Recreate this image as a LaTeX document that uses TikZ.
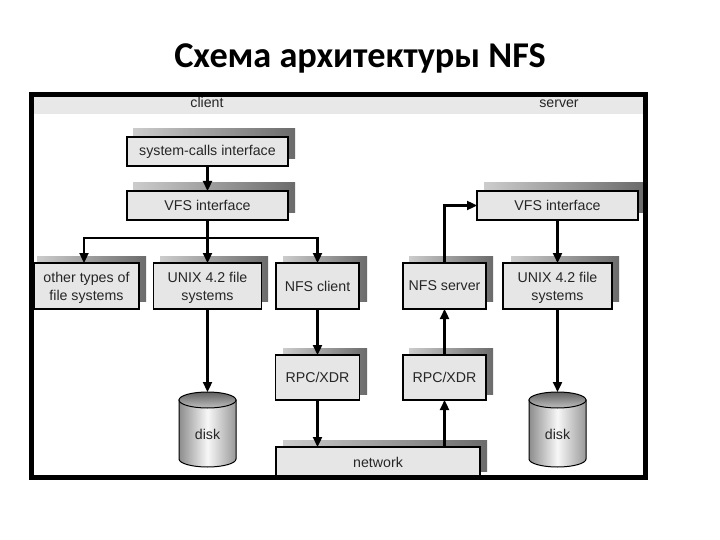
\documentclass[tikz,border=0pt]{standalone}
\usepackage{fontspec}
\setmainfont{Liberation Sans}
\newfontfamily\titlefont{Carlito}
\usetikzlibrary{arrows.meta,calc}
\definecolor{boxfill}{HTML}{E7E6E7}
\definecolor{bandfill}{HTML}{E8E8E8}
\newcommand{\lowstrut}{\rule{0pt}{14pt}}
\tikzset{
  boxnode/.style={draw=black,line width=1.5pt,fill=boxfill,inner sep=0pt,outer sep=0pt,align=center,font=\fontsize{14.2}{17.7}\selectfont,text=black!85},
  boxshadow/.style={left color=black!20,right color=black!58,draw=none},
  plainlabel/.style={inner sep=0pt,anchor=base,font=\fontsize{14.2}{17}\selectfont,text=black!85},
  conn/.style={line width=2.3pt,draw=black,-{Triangle[length=10pt,width=9pt]}},
  connplain/.style={line width=2.3pt,draw=black},
  diskbody/.style={draw=black,line width=1pt,left color=black!45,right color=black!40,middle color=black!3},
  disktop/.style={draw=black,line width=1pt,top color=black!62,bottom color=black!25},
}
\newcommand{\sdw}[4]{\path[boxshadow] (#1,#2) rectangle (#3,#4);}
\newcommand{\diskshape}[4]{%
  \path[diskbody] (#1,#2) -- (#1,#3) arc[start angle=180,end angle=0,x radius=#4,y radius=8] -- ++(0,-#3+#2) -- cycle;
  \path[disktop] (#1+#4,#2) ellipse[x radius=#4,y radius=8];
}
\begin{document}
\begin{tikzpicture}[x=1pt,y=-1pt]
\useasboundingbox (0,0) rectangle (720,540);
\fill[white] (0,0) rectangle (720,540);
\node[inner sep=0pt,anchor=base,font=\titlefont\bfseries\fontsize{36.3}{40}\selectfont] (title) at (360,68) {Схема архитектуры NFS};
\fill[bandfill] (34,97) rectangle (643,114);
\node[plainlabel] (clientl) at (207,108) {client};
\node[plainlabel] (serverl) at (559,108) {server};
% shadows
\sdw{133}{129}{295}{159}
\sdw{133}{183}{295}{213}
\sdw{37}{256}{146}{301}
\sdw{160}{256}{268}{301}
\sdw{283}{256}{367}{301}
\sdw{409}{256}{493}{301}
\sdw{511}{256}{619}{301}
\sdw{484}{183}{643}{213}
\sdw{283}{348}{367}{394}
\sdw{409}{348}{493}{394}
\sdw{283}{440}{487}{471}
% boxes
\node[boxnode,minimum width=161pt,minimum height=29pt] (sys) at (207.5,151.5) {system-calls interface};
\node[boxnode,minimum width=161pt,minimum height=29pt] (vfs) at (207.5,205.5) {VFS interface};
\node[boxnode,minimum width=105pt,minimum height=46pt] (other) at (86.5,286) {\lowstrut other types of\\file systems};
\node[boxnode,minimum width=108pt,minimum height=46pt] (unixa) at (207.5,286) {\lowstrut UNIX 4.2 file\\systems};
\node[boxnode,minimum width=83pt,minimum height=46pt] (nfsc) at (317.5,286) {NFS client};
\node[boxnode,minimum width=83pt,minimum height=46pt] (nfss) at (444.5,286) {NFS server};
\node[boxnode,minimum width=109pt,minimum height=46pt] (unixb) at (557.5,286) {\lowstrut UNIX 4.2 file\\systems};
\node[boxnode,minimum width=161pt,minimum height=29pt] (vfsb) at (557.5,205.5) {VFS interface};
\node[boxnode,minimum width=84pt,minimum height=45pt] (rpca) at (317.5,377.5) {RPC/XDR};
\node[boxnode,minimum width=83pt,minimum height=45pt] (rpcb) at (444.5,377.5) {RPC/XDR};
\node[boxnode,minimum width=204pt,minimum height=31pt] (net) at (378,462.5) {network};
% disks
\diskshape{179}{400}{459}{28.5}
\diskshape{529}{400}{459}{28.5}
\node[plainlabel] (diska) at (207.5,439) {disk};
\node[plainlabel] (diskb) at (557.5,439) {disk};
\coordinate (diskatop) at (207.5,392);
\coordinate (diskbtop) at (557.5,392);
\coordinate (hub) at (207.5,238);
% connectors
\draw[conn] (sys.south) -- (vfs.north);
\draw[connplain] (vfs.south) -- (hub);
\draw[conn] (hub) -- (unixa.north);
\draw[conn] (hub) -| ([xshift=-2.5pt]other.north);
\draw[conn] (hub) -| (nfsc.north);
\draw[conn] (unixa.south) -- (diskatop);
\draw[conn] (nfsc.south) -- (nfsc.south |- rpca.north);
\draw[conn] (rpca.south) -- (rpca.south |- net.north);
\draw[conn] (rpcb.south |- net.north) -- (rpcb.south);
\draw[conn] (rpcb.north) -- (nfss.south);
\draw[conn] (nfss.north) |- (vfsb.west);
\draw[conn] (vfsb.south) -- (unixb.north);
\draw[conn] (unixb.south) -- (diskbtop);
% frame
\draw[black,line width=5pt] (31.5,94.5) rectangle (645.5,477.5);
\end{tikzpicture}
\end{document}
